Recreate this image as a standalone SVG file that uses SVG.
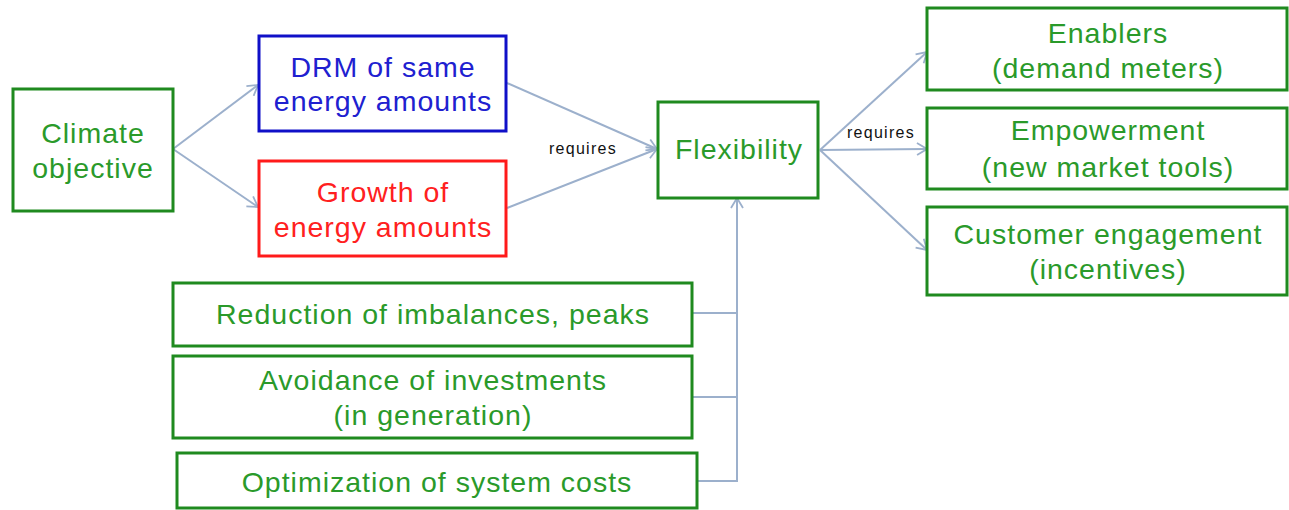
<svg xmlns="http://www.w3.org/2000/svg" width="1289" height="510" viewBox="0 0 1289 510">
<defs>
<style>
.box{fill:#fff;stroke:#1f8a1f;stroke-width:3}
.t{font-family:"Liberation Sans",Arial,sans-serif;font-size:28.5px;letter-spacing:1px;text-anchor:middle;fill:#2a9a2a}
.blue{stroke:#1010c8}
.red{stroke:#ff1a1a}
.tb{fill:#2020d0}
.tr{fill:#ff2020}
.c{fill:none;stroke:#9cb0cc;stroke-width:2}
.lbl{font-family:"Liberation Sans",Arial,sans-serif;font-size:16px;letter-spacing:1.3px;fill:#111;text-anchor:middle}
</style>
<marker id="arr" markerUnits="userSpaceOnUse" markerWidth="14" markerHeight="14" viewBox="0 0 14 14" refX="13" refY="7" orient="auto">
<path d="M3,1 L13,7 L3,13" fill="none" stroke="#9cb0cc" stroke-width="1.8"/>
</marker>
</defs>
<rect width="1289" height="510" fill="#fff"/>
<g id="connectors">
<line class="c" x1="173" y1="149" x2="258" y2="85" marker-end="url(#arr)"/>
<line class="c" x1="173" y1="149" x2="258" y2="207" marker-end="url(#arr)"/>
<line class="c" x1="507" y1="83" x2="657" y2="149" marker-end="url(#arr)"/>
<line class="c" x1="507" y1="208" x2="657" y2="149" marker-end="url(#arr)"/>
<line class="c" x1="820" y1="150" x2="927" y2="52" marker-end="url(#arr)"/>
<line class="c" x1="820" y1="150" x2="927" y2="149" marker-end="url(#arr)"/>
<line class="c" x1="820" y1="150" x2="927" y2="250" marker-end="url(#arr)"/>
<line class="c" x1="737" y1="481" x2="737" y2="198" marker-end="url(#arr)"/>
<line class="c" x1="692" y1="313" x2="738" y2="313"/>
<line class="c" x1="692" y1="397" x2="738" y2="397"/>
<line class="c" x1="697" y1="481" x2="738" y2="481"/>
<text class="lbl" x="583" y="154">requires</text>
<text class="lbl" x="881" y="138">requires</text>
</g>
<g id="climate">
<rect class="box" x="13" y="89" width="160" height="122"/>
<text class="t" x="93" y="143">Climate</text>
<text class="t" x="93" y="178">objective</text>
</g>
<g id="drm">
<rect class="box blue" x="259" y="36" width="247" height="95"/>
<text class="t tb" x="383" y="77">DRM of same</text>
<text class="t tb" x="383" y="111">energy amounts</text>
</g>
<g id="growth">
<rect class="box red" x="259" y="161" width="247" height="95"/>
<text class="t tr" x="383" y="202">Growth of</text>
<text class="t tr" x="383" y="237">energy amounts</text>
</g>
<g id="flexibility">
<rect class="box" x="658" y="102" width="160" height="96"/>
<text class="t" x="739" y="159">Flexibility</text>
</g>
<g id="enablers">
<rect class="box" x="927" y="8" width="360" height="82"/>
<text class="t" x="1108" y="43">Enablers</text>
<text class="t" x="1108" y="78">(demand meters)</text>
</g>
<g id="empowerment">
<rect class="box" x="927" y="108" width="360" height="81"/>
<text class="t" x="1108" y="140">Empowerment</text>
<text class="t" x="1108" y="177">(new market tools)</text>
</g>
<g id="customer">
<rect class="box" x="927" y="207" width="360" height="88"/>
<text class="t" x="1108" y="244">Customer engagement</text>
<text class="t" x="1108" y="279">(incentives)</text>
</g>
<g id="reduction">
<rect class="box" x="173" y="283" width="519" height="63"/>
<text class="t" x="433" y="324">Reduction of imbalances, peaks</text>
</g>
<g id="avoidance">
<rect class="box" x="173" y="356" width="519" height="82"/>
<text class="t" x="433" y="390">Avoidance of investments</text>
<text class="t" x="433" y="425">(in generation)</text>
</g>
<g id="optimization">
<rect class="box" x="177" y="453" width="520" height="55"/>
<text class="t" x="437" y="492">Optimization of system costs</text>
</g>
</svg>
